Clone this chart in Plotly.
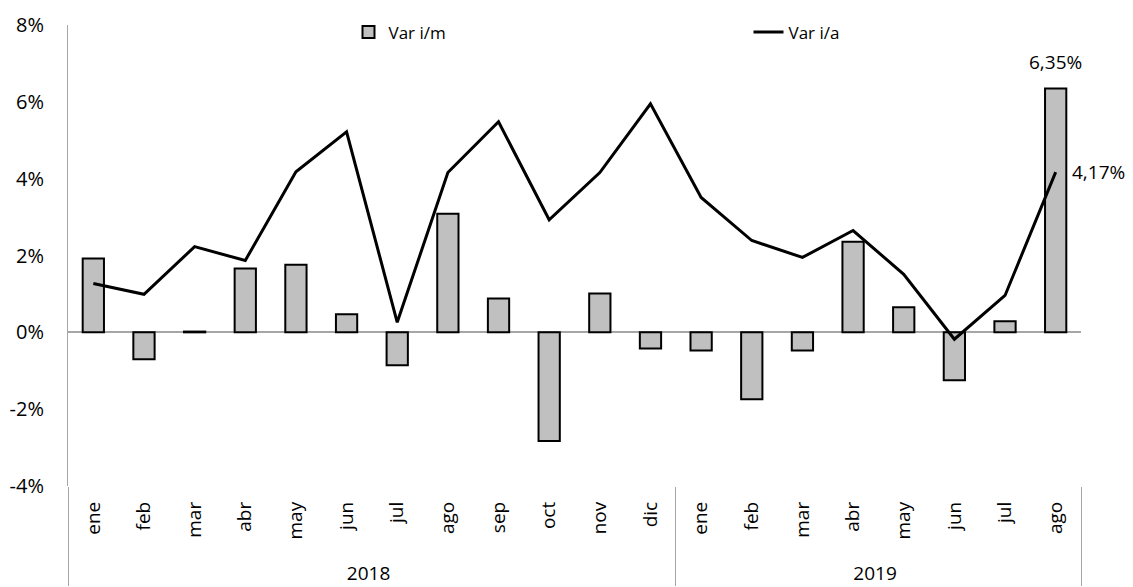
import plotly.graph_objects as go

years = ["2018"] * 12 + ["2019"] * 8
months = ["ene", "feb", "mar", "abr", "may", "jun", "jul", "ago", "sep", "oct", "nov", "dic",
          "ene", "feb", "mar", "abr", "may", "jun", "jul", "ago"]

var_im = [1.92, -0.70, 0.02, 1.66, 1.76, 0.47, -0.86, 3.09, 0.88, -2.83, 1.01, -0.42,
          -0.47, -1.74, -0.47, 2.36, 0.65, -1.25, 0.29, 6.35]
var_ia = [1.27, 0.99, 2.23, 1.87, 4.18, 5.22, 0.26, 4.16, 5.48, 2.93, 4.16, 5.95,
          3.51, 2.39, 1.95, 2.65, 1.51, -0.18, 0.96, 4.17]

y_ticks = [-4, -2, 0, 2, 4, 6, 8]


def pct(v):
    return f"{v:.2f}%".replace(".", ",")


FONT = "Open Sans"

# leading nbsp pads the rotated labels so the year row sits lower
month_lbl = ["\u00a0" * 3 + m for m in months]
xcat = [years, month_lbl]

fig = go.Figure()

fig.add_trace(go.Bar(
    x=xcat, y=var_im, name="Var i/m",
    marker=dict(color="#C0C0C0", line=dict(color="black", width=2)),
    width=0.42,
))

fig.add_trace(go.Scatter(
    x=xcat, y=var_ia, name="Var i/a",
    mode="lines", line=dict(color="black", width=3),
    cliponaxis=False,
))

# labels for the last month
last = len(months) - 1
fig.add_annotation(x=last, y=var_im[-1], text=pct(var_im[-1]), showarrow=False,
                   yshift=26, font=dict(size=19, color="black", family=FONT))
fig.add_annotation(x=last, y=var_ia[-1], text=pct(var_ia[-1]), showarrow=False,
                   xanchor="left", xshift=14, yshift=0,
                   font=dict(size=19, color="black", family=FONT))

fig.update_xaxes(
    type="multicategory",
    range=[-0.5, len(months) - 0.5],
    tickangle=-90,
    showline=False, showgrid=False, ticks="",
    showdividers=True, dividercolor="#A6A6A6", dividerwidth=1,
    ticklabelstandoff=11,
    tickfont=dict(size=19, color="black", family=FONT),
    automargin=False,
)

fig.update_yaxes(
    range=[-4, 8],
    tickvals=y_ticks, ticktext=[f"{v}%" for v in y_ticks],
    showgrid=False, zeroline=True, zerolinecolor="#A6A6A6", zerolinewidth=1.5,
    showline=True, linecolor="#A6A6A6", linewidth=1,
    ticks="", ticklabelstandoff=19,
    tickfont=dict(size=20, color="black", family=FONT),
    automargin=False,
)

fig.update_layout(
    width=1125, height=579,
    margin=dict(l=60, r=52, t=17, b=101, autoexpand=False),
    plot_bgcolor="white", paper_bgcolor="white",
    font=dict(family=FONT, color="black"),
    showlegend=True,
    legend=dict(
        orientation="h",
        x=0.2769, y=1.023, xanchor="left", yanchor="top",
        entrywidth=355, entrywidthmode="pixels",
        font=dict(size=17, color="black", family=FONT),
        bgcolor="rgba(0,0,0,0)",
    ),
)

fig.write_html("out.html")
